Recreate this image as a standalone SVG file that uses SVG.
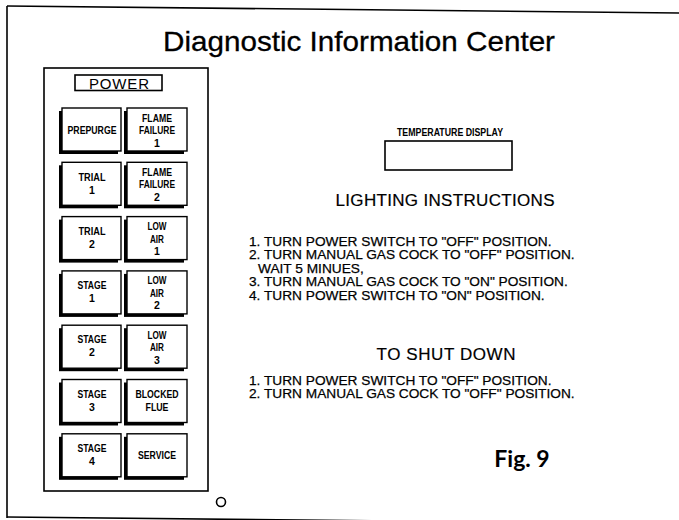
<svg xmlns="http://www.w3.org/2000/svg" width="679" height="520" viewBox="0 0 679 520">
<style>
.ln{stroke:#000;fill:none;stroke-width:1.6}
.sh{fill:#000}
.bt{fill:#fff;stroke:#000;stroke-width:1.4}
.bl{font-family:"Liberation Sans",Arial,sans-serif;font-weight:bold;font-size:10.5px;text-anchor:middle;fill:#000}
.tx{font-family:"Liberation Sans",Arial,sans-serif;font-size:13.7px;fill:#000;stroke:#000;stroke-width:0.25}
.hd{font-family:"Liberation Sans",Arial,sans-serif;font-size:17px;text-anchor:middle;fill:#000;stroke:#000;stroke-width:0.2}
</style>
<rect width="679" height="520" fill="#fff"/>
<g id="frame">
<line class="ln" x1="7" y1="6" x2="679" y2="13"/>
<line class="ln" x1="7" y1="6" x2="7" y2="518"/>
<line class="ln" x1="7" y1="517" x2="679" y2="524"/>
</g>
<text id="title" x="359" y="51" font-family="'Liberation Sans',Arial,sans-serif" font-size="28" text-anchor="middle" textLength="392" lengthAdjust="spacingAndGlyphs" stroke="#000" stroke-width="0.3">Diagnostic Information Center</text>
<g id="panel">
<rect class="ln" x="44" y="68" width="164" height="423"/>
<rect class="ln" x="75" y="75" width="87" height="15.5"/>
<text x="119" y="88.5" font-family="'Liberation Sans',Arial,sans-serif" font-size="15" text-anchor="middle" textLength="60">POWER</text>
</g>
<g id="btn-prepurge"><rect class="sh" x="59" y="111" width="59" height="43"/><rect class="bt" x="62" y="108" width="59" height="43"/><text class="bl" x="92" y="133.5" textLength="49" lengthAdjust="spacingAndGlyphs">PREPURGE</text></g>
<g id="btn-ff1"><rect class="sh" x="124" y="111" width="60" height="43"/><rect class="bt" x="127" y="108" width="60" height="43"/><text class="bl" x="157" y="121.5" textLength="30" lengthAdjust="spacingAndGlyphs">FLAME</text><text class="bl" x="157" y="134" textLength="36" lengthAdjust="spacingAndGlyphs">FAILURE</text><text class="bl" x="157" y="146.5">1</text></g>
<g id="btn-trial1"><rect class="sh" x="59" y="165.3" width="59" height="43"/><rect class="bt" x="62" y="162.3" width="59" height="43"/><text class="bl" x="92" y="180.5" textLength="27" lengthAdjust="spacingAndGlyphs">TRIAL</text><text class="bl" x="92" y="193.5">1</text></g>
<g id="btn-ff2"><rect class="sh" x="124" y="165.3" width="60" height="43"/><rect class="bt" x="127" y="162.3" width="60" height="43"/><text class="bl" x="157" y="175.8" textLength="30" lengthAdjust="spacingAndGlyphs">FLAME</text><text class="bl" x="157" y="188.3" textLength="36" lengthAdjust="spacingAndGlyphs">FAILURE</text><text class="bl" x="157" y="200.8">2</text></g>
<g id="btn-trial2"><rect class="sh" x="59" y="219.6" width="59" height="43"/><rect class="bt" x="62" y="216.6" width="59" height="43"/><text class="bl" x="92" y="234.8" textLength="27" lengthAdjust="spacingAndGlyphs">TRIAL</text><text class="bl" x="92" y="247.8">2</text></g>
<g id="btn-la1"><rect class="sh" x="124" y="219.6" width="60" height="43"/><rect class="bt" x="127" y="216.6" width="60" height="43"/><text class="bl" x="157" y="230.1" textLength="19" lengthAdjust="spacingAndGlyphs">LOW</text><text class="bl" x="157" y="242.6" textLength="14" lengthAdjust="spacingAndGlyphs">AIR</text><text class="bl" x="157" y="255.1">1</text></g>
<g id="btn-stage1"><rect class="sh" x="59" y="273.9" width="59" height="43"/><rect class="bt" x="62" y="270.9" width="59" height="43"/><text class="bl" x="92" y="289.1" textLength="29" lengthAdjust="spacingAndGlyphs">STAGE</text><text class="bl" x="92" y="302.1">1</text></g>
<g id="btn-la2"><rect class="sh" x="124" y="273.9" width="60" height="43"/><rect class="bt" x="127" y="270.9" width="60" height="43"/><text class="bl" x="157" y="284.4" textLength="19" lengthAdjust="spacingAndGlyphs">LOW</text><text class="bl" x="157" y="296.9" textLength="14" lengthAdjust="spacingAndGlyphs">AIR</text><text class="bl" x="157" y="309.4">2</text></g>
<g id="btn-stage2"><rect class="sh" x="59" y="328.2" width="59" height="43"/><rect class="bt" x="62" y="325.2" width="59" height="43"/><text class="bl" x="92" y="343.4" textLength="29" lengthAdjust="spacingAndGlyphs">STAGE</text><text class="bl" x="92" y="356.4">2</text></g>
<g id="btn-la3"><rect class="sh" x="124" y="328.2" width="60" height="43"/><rect class="bt" x="127" y="325.2" width="60" height="43"/><text class="bl" x="157" y="338.7" textLength="19" lengthAdjust="spacingAndGlyphs">LOW</text><text class="bl" x="157" y="351.2" textLength="14" lengthAdjust="spacingAndGlyphs">AIR</text><text class="bl" x="157" y="363.7">3</text></g>
<g id="btn-stage3"><rect class="sh" x="59" y="382.5" width="59" height="43"/><rect class="bt" x="62" y="379.5" width="59" height="43"/><text class="bl" x="92" y="397.7" textLength="29" lengthAdjust="spacingAndGlyphs">STAGE</text><text class="bl" x="92" y="410.7">3</text></g>
<g id="btn-blocked"><rect class="sh" x="124" y="382.5" width="60" height="43"/><rect class="bt" x="127" y="379.5" width="60" height="43"/><text class="bl" x="157" y="397.7" textLength="43" lengthAdjust="spacingAndGlyphs">BLOCKED</text><text class="bl" x="157" y="410.7" textLength="23" lengthAdjust="spacingAndGlyphs">FLUE</text></g>
<g id="btn-stage4"><rect class="sh" x="59" y="436.8" width="59" height="43"/><rect class="bt" x="62" y="433.8" width="59" height="43"/><text class="bl" x="92" y="452" textLength="29" lengthAdjust="spacingAndGlyphs">STAGE</text><text class="bl" x="92" y="465">4</text></g>
<g id="btn-service"><rect class="sh" x="124" y="436.8" width="60" height="43"/><rect class="bt" x="127" y="433.8" width="60" height="43"/><text class="bl" x="157" y="459" textLength="38" lengthAdjust="spacingAndGlyphs">SERVICE</text></g>
<circle id="knob" cx="221" cy="502" r="4.5" class="ln"/>
<g id="temp-display">
<text class="bl" x="450" y="136" font-size="9" textLength="106" lengthAdjust="spacingAndGlyphs">TEMPERATURE DISPLAY</text>
<rect class="ln" x="385" y="141" width="127" height="29"/>
</g>
<g id="lighting">
<text class="hd" x="445" y="206" textLength="219">LIGHTING INSTRUCTIONS</text>
<text class="tx" x="249" y="245.5">1. TURN POWER SWITCH TO "OFF" POSITION.</text>
<text class="tx" x="249" y="259">2. TURN MANUAL GAS COCK TO "OFF" POSITION.</text>
<text class="tx" x="258" y="272.5">WAIT 5 MINUES,</text>
<text class="tx" x="249" y="286">3. TURN MANUAL GAS COCK TO "ON" POSITION.</text>
<text class="tx" x="249" y="299.5">4. TURN POWER SWITCH TO "ON" POSITION.</text>
</g>
<g id="shutdown">
<text class="hd" x="446" y="360" textLength="139">TO SHUT DOWN</text>
<text class="tx" x="249" y="384.5">1. TURN POWER SWITCH TO "OFF" POSITION.</text>
<text class="tx" x="249" y="398">2. TURN MANUAL GAS COCK TO "OFF" POSITION.</text>
</g>
<text id="fig" x="522" y="467" font-family="Lato,'Open Sans',sans-serif" font-weight="bold" font-size="23" text-anchor="middle">Fig. 9</text>
</svg>
